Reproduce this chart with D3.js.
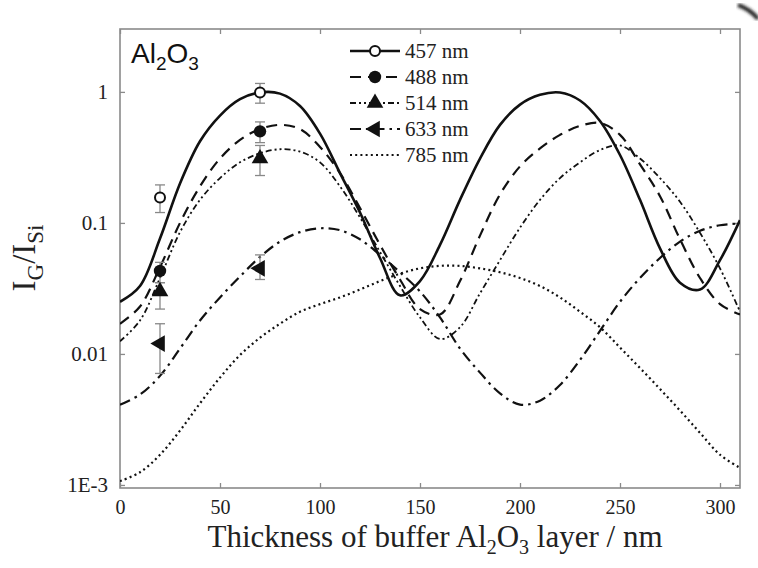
<!DOCTYPE html>
<html>
<head>
<meta charset="utf-8">
<script src="https://cdn.jsdelivr.net/npm/d3@7"></script>
<style>
  body { margin: 0; background: #fff; }
</style>
</head>
<body>
<div id="chart"></div>
<script>
// thickness grid (nm) shared by all the calculated curves
const thickness = [0, 10, 20, 30, 40, 50, 60, 70, 80, 90, 100, 110, 120, 130, 140, 150,
    160, 170, 180, 190, 200, 210, 220, 230, 240, 250, 260, 270, 280, 290, 300, 310];

// IG/ISi
const curve457 = [0.025, 0.033, 0.076, 0.20, 0.42, 0.66, 0.88, 0.99, 0.97, 0.78, 0.48, 0.24, 0.12, 0.054, 0.028, 0.036,
    0.068, 0.15, 0.31, 0.56, 0.80, 0.95, 0.99, 0.86, 0.60, 0.33, 0.15, 0.064, 0.035, 0.031, 0.052, 0.105];
const curve488 = [0.017, 0.023, 0.046, 0.10, 0.19, 0.31, 0.43, 0.52, 0.56, 0.52, 0.38, 0.24, 0.13, 0.068, 0.037, 0.022,
    0.020, 0.036, 0.080, 0.165, 0.27, 0.37, 0.47, 0.55, 0.58, 0.47, 0.28, 0.16, 0.075, 0.038, 0.024, 0.020];
const curve514 = [0.0125, 0.018, 0.038, 0.085, 0.15, 0.22, 0.29, 0.34, 0.365, 0.35, 0.29, 0.19, 0.11, 0.060, 0.033, 0.019,
    0.013, 0.016, 0.029, 0.052, 0.092, 0.15, 0.22, 0.29, 0.36, 0.39, 0.31, 0.22, 0.145, 0.084, 0.045, 0.021];
const curve633 = [0.0041, 0.0049, 0.0068, 0.011, 0.018, 0.027, 0.039, 0.055, 0.072, 0.085, 0.091, 0.088, 0.075, 0.057, 0.042, 0.030,
    0.019, 0.011, 0.0072, 0.0050, 0.0041, 0.0044, 0.0058, 0.0090, 0.015, 0.025, 0.038, 0.054, 0.072, 0.087, 0.096, 0.099];
const curve785 = [0.00107, 0.00125, 0.0017, 0.0026, 0.0042, 0.0066, 0.0098, 0.0133, 0.017, 0.021, 0.024, 0.027, 0.031, 0.036, 0.041, 0.045,
    0.047, 0.047, 0.045, 0.042, 0.038, 0.033, 0.027, 0.021, 0.016, 0.0112, 0.0078, 0.0054, 0.0037, 0.0025, 0.0017, 0.00135];

// measured points
const pointX = [20, 70];
const pts457 = [0.156, 0.99], lo457 = [0.12, 0.82], hi457 = [0.195, 1.16];
const pts488 = [0.043, 0.50], lo488 = [0.035, 0.41], hi488 = [0.050, 0.59];
const pts514 = [0.030, 0.31], lo514 = [0.022, 0.23], hi514 = [0.035, 0.39];
const pts633 = [0.012, 0.045], lo633 = [0.0071, 0.037], hi633 = [0.017, 0.057];

const names = ["457 nm", "488 nm", "514 nm", "633 nm", "785 nm"];
const xTicks = [0, 50, 100, 150, 200, 250, 300];
const yTicks = [0.001, 0.01, 0.1, 1];
const yTickLabels = ["1E-3", "0.01", "0.1", "1"];

const W = 758, H = 568;
const plot = {l: 120, r: 740, t: 29, b: 488};
const axisColor = "#8a8a8a";
const serif = "'Liberation Serif', 'Times New Roman', Tinos, 'DejaVu Serif', serif";

const svg = d3.select("#chart").append("svg")
    .attr("width", W)
    .attr("height", H);

svg.append("rect").attr("width", W).attr("height", H).attr("fill", "#fff");

const x = d3.scaleLinear().domain([0, 310]).range([plot.l, plot.r]);
const y = d3.scaleLog().domain([0.000948, 3.02]).range([plot.b, plot.t]);

//frame
svg.append("rect")
    .attr("x", plot.l).attr("y", plot.t)
    .attr("width", plot.r - plot.l).attr("height", plot.b - plot.t)
    .attr("fill", "none")
    .attr("stroke", axisColor)
    .attr("stroke-width", 1.6);

function styleAxis(g) {
    g.select(".domain").remove();
    g.selectAll(".tick line").attr("stroke", axisColor).attr("stroke-width", 1.3);
    g.selectAll(".tick text")
        .style("font-family", serif)
        .attr("fill", "#222");
}

// bottom
svg.append("g")
    .attr("transform", `translate(0,${plot.b})`)
    .call(d3.axisBottom(x).tickValues(xTicks).tickSize(-5).tickPadding(12).tickFormat(d3.format("d")))
    .call(styleAxis)
    .selectAll(".tick text").style("font-size", "20px");
// top
svg.append("g")
    .attr("transform", `translate(0,${plot.t})`)
    .call(d3.axisTop(x).tickValues(xTicks).tickSize(-5).tickFormat(""))
    .call(styleAxis);
// left
svg.append("g")
    .attr("transform", `translate(${plot.l},0)`)
    .call(d3.axisLeft(y).tickValues(yTicks).tickSize(-5).tickPadding(12)
        .tickFormat((d, i) => yTickLabels[i]))
    .call(styleAxis)
    .selectAll(".tick text").style("font-size", "21px");
// right
svg.append("g")
    .attr("transform", `translate(${plot.r},0)`)
    .call(d3.axisRight(y).tickValues(yTicks).tickSize(-5).tickFormat(""))
    .call(styleAxis);

// curves
const styles = [
    {data: curve457, dash: null, width: 2.6},
    {data: curve488, dash: "11,7", width: 2.2},
    {data: curve514, dash: "6,3,2,3,2,3", width: 1.8},
    {data: curve633, dash: "11,5,2.5,5", width: 2.2},
    {data: curve785, dash: "2,3.2", width: 2.2}
];

const line = d3.line()
    .x((d, i) => x(thickness[i]))
    .y(d => y(d))
    .curve(d3.curveCatmullRom.alpha(0.5));

svg.append("clipPath").attr("id", "clip")
    .append("rect")
    .attr("x", plot.l).attr("y", plot.t)
    .attr("width", plot.r - plot.l).attr("height", plot.b - plot.t);

const curves = svg.append("g").attr("clip-path", "url(#clip)");
styles.forEach(function(s) {
    curves.append("path")
        .datum(s.data)
        .attr("fill", "none")
        .attr("stroke", "#111")
        .attr("stroke-width", s.width)
        .attr("stroke-dasharray", s.dash)
        .attr("d", line);
});

// markers with error bars
const markers = [
    {v: pts457, lo: lo457, hi: hi457, shape: "open"},
    {v: pts488, lo: lo488, hi: hi488, shape: "circle"},
    {v: pts514, lo: lo514, hi: hi514, shape: "up"},
    {v: pts633, lo: lo633, hi: hi633, shape: "left"}
];

function drawMarker(g, shape, cx, cy) {
    if (shape === "open") {
        g.append("circle").attr("cx", cx).attr("cy", cy).attr("r", 5)
            .attr("fill", "#fff").attr("stroke", "#111").attr("stroke-width", 2);
    } else if (shape === "circle") {
        g.append("circle").attr("cx", cx).attr("cy", cy).attr("r", 6.2).attr("fill", "#111");
    } else {
        g.append("path")
            .attr("d", d3.symbol().type(d3.symbolTriangle).size(120)())
            .attr("transform", `translate(${cx},${cy}) rotate(${shape === "left" ? -90 : 0})`)
            .attr("fill", "#111");
    }
}

const errG = svg.append("g");
markers.forEach(function(m) {
    pointX.forEach(function(px, i) {
        const cx = x(px);
        errG.append("line")
            .attr("x1", cx).attr("x2", cx)
            .attr("y1", y(m.lo[i])).attr("y2", y(m.hi[i]))
            .attr("stroke", "#888").attr("stroke-width", 1.3);
        [m.lo[i], m.hi[i]].forEach(function(e) {
            errG.append("line")
                .attr("x1", cx - 5).attr("x2", cx + 5)
                .attr("y1", y(e)).attr("y2", y(e))
                .attr("stroke", "#888").attr("stroke-width", 1.3);
        });
    });
});
markers.forEach(function(m) {
    pointX.forEach(function(px, i) {
        drawMarker(svg, m.shape, x(px), y(m.v[i]));
    });
});

// legend
const legendShapes = ["open", "circle", "up", "left", null];
const legend = svg.append("g").attr("transform", "translate(350, 51)");
names.forEach(function(name, i) {
    const row = legend.append("g").attr("transform", `translate(0, ${i * 26})`);
    row.append("line")
        .attr("x1", 0).attr("x2", 50)
        .attr("stroke", "#111")
        .attr("stroke-width", styles[i].width)
        .attr("stroke-dasharray", styles[i].dash);
    if (legendShapes[i]) {
        drawMarker(row, legendShapes[i], 25, 0);
    }
    row.append("text")
        .attr("x", 55).attr("y", 7)
        .style("font-family", serif)
        .style("font-size", "21px")
        .attr("fill", "#222")
        .text(name);
});

// material label
const mat = svg.append("text")
    .attr("x", 131).attr("y", 63)
    .style("font-family", "'Liberation Sans', Arial, sans-serif")
    .style("font-size", "28px")
    .attr("fill", "#111");
mat.append("tspan").text("Al");
mat.append("tspan").style("font-size", "19px").attr("dy", 7).text("2");
mat.append("tspan").attr("dy", -7).text("O");
mat.append("tspan").style("font-size", "19px").attr("dy", 7).text("3");

// x title
const xt = svg.append("text")
    .attr("x", (plot.l + plot.r) / 2 + 5).attr("y", 547)
    .attr("text-anchor", "middle")
    .style("font-family", serif)
    .style("font-size", "31px")
    .attr("fill", "#222");
xt.append("tspan").text("Thickness of buffer Al");
xt.append("tspan").style("font-size", "20px").attr("dy", 7).text("2");
xt.append("tspan").attr("dy", -7).text("O");
xt.append("tspan").style("font-size", "20px").attr("dy", 7).text("3");
xt.append("tspan").attr("dy", -7).text(" layer / nm");

// y title
const yt = svg.append("text")
    .attr("transform", "translate(35, 258) rotate(-90)")
    .attr("text-anchor", "middle")
    .style("font-family", serif)
    .style("font-size", "33px")
    .attr("fill", "#222");
yt.append("tspan").text("I");
yt.append("tspan").style("font-size", "23px").attr("dy", 8).text("G");
yt.append("tspan").attr("dy", -8).text("/I");
yt.append("tspan").style("font-size", "23px").attr("dy", 8).text("Si");

// page curl shadow in the corner of the scan
svg.append("filter").attr("id", "blur")
    .append("feGaussianBlur").attr("stdDeviation", 1.6);
svg.append("path")
    .attr("d", "M738,5 Q750,9 758,19")
    .attr("fill", "none")
    .attr("stroke", "#222")
    .attr("stroke-width", 4)
    .attr("filter", "url(#blur)");
</script>
</body>
</html>
